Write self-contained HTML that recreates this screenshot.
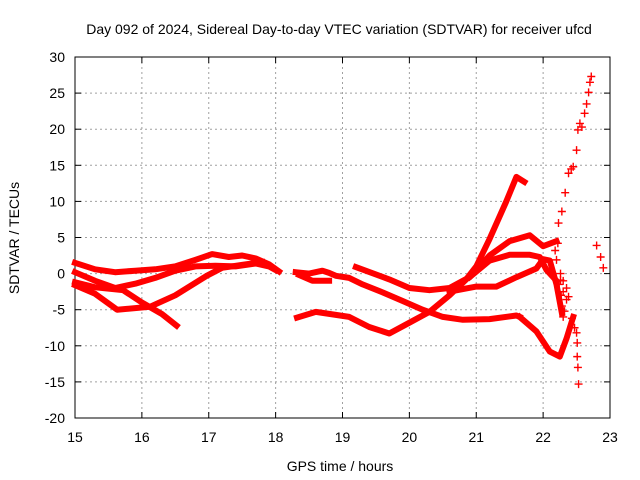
<!DOCTYPE html>
<html><head><meta charset="utf-8"><style>
body{margin:0;background:#fff}
svg{display:block;font-family:"Liberation Sans",sans-serif}
</style></head><body>
<svg id="c" width="640" height="480"></svg>
<script>
const xTicks=[15,16,17,18,19,20,21,22,23];
const yTicks=[-20,-15,-10,-5,0,5,10,15,20,25,30];
const track1=[[15.0,1.5],[15.3,0.6],[15.6,0.2],[15.9,0.4],[16.2,0.6],[16.5,1.0],[16.8,1.9],[17.05,2.7],[17.3,2.3],[17.5,2.5],[17.7,2.1],[17.9,1.3],[18.05,0.3]];
const track1b=[[18.3,0.2],[18.5,0.0],[18.7,0.4],[18.8,0.1],[18.9,-0.3],[19.1,-0.6],[19.3,-1.5],[19.6,-2.6],[19.9,-3.8],[20.2,-5.0],[20.5,-6.0],[20.8,-6.4],[21.2,-6.3],[21.6,-5.8],[21.65,-6.0]];
const track1c=[[18.35,-0.2],[18.55,-1.0],[18.8,-1.0]];
const track2=[[15.0,0.2],[15.3,-1.0],[15.6,-2.0],[15.9,-1.4],[16.2,-0.6],[16.5,0.4],[16.8,1.0],[17.1,1.1],[17.4,1.0],[17.7,1.4],[17.9,1.0],[18.0,0.5]];
const track3=[[15.0,-1.2],[15.3,-1.9],[15.72,-2.3],[16.0,-4.0],[16.3,-5.6],[16.52,-7.2]];
const track4=[[15.0,-1.6],[15.3,-2.8],[15.63,-5.0],[16.12,-4.6],[16.5,-3.0],[16.97,-0.3],[17.2,0.8],[17.5,1.2],[17.8,1.6]];
const track5=[[18.32,-6.1],[18.6,-5.3],[19.1,-6.0],[19.4,-7.4],[19.7,-8.3],[20.0,-6.8],[20.3,-5.3],[20.6,-3.0],[20.85,-0.8],[21.0,1.0],[21.2,4.8],[21.45,10.0],[21.6,13.4],[21.72,12.7]];
const track5b=[[20.9,-0.5],[21.2,1.8],[21.5,2.6],[21.8,2.6],[21.95,2.3],[22.05,0.5],[22.2,-1.0]];
const track6=[[20.6,-2.5],[21.0,-1.8],[21.3,-1.8],[21.6,-0.5],[21.9,0.7],[22.0,2.0],[22.1,1.8],[22.2,-1.5],[22.28,-5.5]];
const track7=[[19.2,0.9],[19.7,-0.8],[20.0,-2.0],[20.3,-2.3],[20.6,-2.0],[20.9,-0.5],[21.2,2.5],[21.5,4.5],[21.8,5.3],[22.0,3.8],[22.2,4.5]];
const track8=[[21.65,-6.0],[21.9,-8.0],[22.1,-10.8],[22.25,-11.5],[22.35,-9.0],[22.45,-6.0]];
const scatterT=[22.18,22.2,22.23,22.26,22.28,22.3,22.33,22.35,22.38,22.42,22.45,22.5,22.52,22.55,22.58,22.62,22.65,22.68,22.7,22.72, 22.26,22.28,22.3,22.32,22.43,22.47,22.5,22.51,22.51,22.52,22.53, 22.8,22.86,22.9, 22.22,22.24,22.27,22.3,22.35,22.38];
const scatterV=[3.2,1.9,7.0,0.0,8.6,-2.5,11.2,-3.6,13.9,14.5,14.8,17.1,19.9,20.8,20.3,22.2,23.5,25.1,26.5,27.3, -0.9,-4.5,-6.0,-5.2,-6.2,-7.5,-8.2,-9.6,-11.5,-13.0,-15.3, 3.9,2.3,0.8, 4.2,-1.5,-3.0,-1.0,-2.0,-3.2];
const title="Day 092 of 2024, Sidereal Day-to-day VTEC variation (SDTVAR) for receiver ufcd";
const NS="http://www.w3.org/2000/svg";
const svg=document.getElementById('c');
const X0=75,X1=610,Y0=418,Y1=57;
const xs=t=>X0+(t-15)/8*(X1-X0);
const ys=v=>Y0-(v+20)/50*(Y0-Y1);
function mk(tag,attrs,parent){const e=document.createElementNS(NS,tag);for(const k in attrs)e.setAttribute(k,attrs[k]);(parent||svg).appendChild(e);return e;}
xTicks.forEach(t=>{
 if(t>15&&t<23){const g=mk('line',{x1:xs(t),x2:xs(t),y1:Y1,y2:Y0,stroke:'#a0a0a0','stroke-dasharray':'2,3'});
 
 }
 const tk=mk('line',{x1:xs(t),x2:xs(t),y1:Y0,y2:Y0-6,stroke:'#000'});
 
 
 const tk2=mk('line',{x1:xs(t),x2:xs(t),y1:Y1,y2:Y1+6,stroke:'#000'});
 
 
 const lb=mk('text',{x:xs(t),y:Y0+24,'text-anchor':'middle','font-size':14});lb.textContent=t;
 
 
});
yTicks.forEach(v=>{
 if(v>-20&&v<30){const g=mk('line',{x1:X0,x2:X1,y1:ys(v),y2:ys(v),stroke:'#a0a0a0','stroke-dasharray':'2,3'});
 
 }
 const tk=mk('line',{x1:X0,x2:X0+6,y1:ys(v),y2:ys(v),stroke:'#000'});
 
 
 const tk2=mk('line',{x1:X1,x2:X1-6,y1:ys(v),y2:ys(v),stroke:'#000'});
 
 
 const lb=mk('text',{x:X0-10,y:ys(v)+5,'text-anchor':'end','font-size':14});lb.textContent=v;
 
 
});
const fr=mk('rect',{x:X0,y:Y1,width:X1-X0,height:Y0-Y1,fill:'none',stroke:'#000'});


[track1,track1b,track1c,track2,track3,track4,track5,track5b,track6,track7,track8].forEach(tr=>{
 const d=tr.map((p,i)=>(i?'L':'M')+xs(p[0]).toFixed(1)+','+ys(p[1]).toFixed(1)).join(' ');
 const p=mk('path',{d:d,fill:'none',stroke:'#ff0000','stroke-width':6,'stroke-linejoin':'round','stroke-linecap':'square'});
 
 
});
scatterT.forEach((t,i)=>{
 const x=xs(t),y=ys(scatterV[i]);
 const p=mk('path',{d:`M${x-4},${y}H${x+4}M${x},${y-4}V${y+4}`,stroke:'#ff0000','stroke-width':1.4});
 
 
});
const tt=mk('text',{x:339,y:34,'text-anchor':'middle','font-size':14});tt.textContent=title;


const xl=mk('text',{x:340,y:471,'text-anchor':'middle','font-size':14});xl.textContent='GPS time / hours';


const yl=mk('text',{x:0,y:0,'text-anchor':'middle','font-size':14,transform:'translate(19,238) rotate(-90)'});yl.textContent='SDTVAR / TECUs';


</script>
</body></html>
